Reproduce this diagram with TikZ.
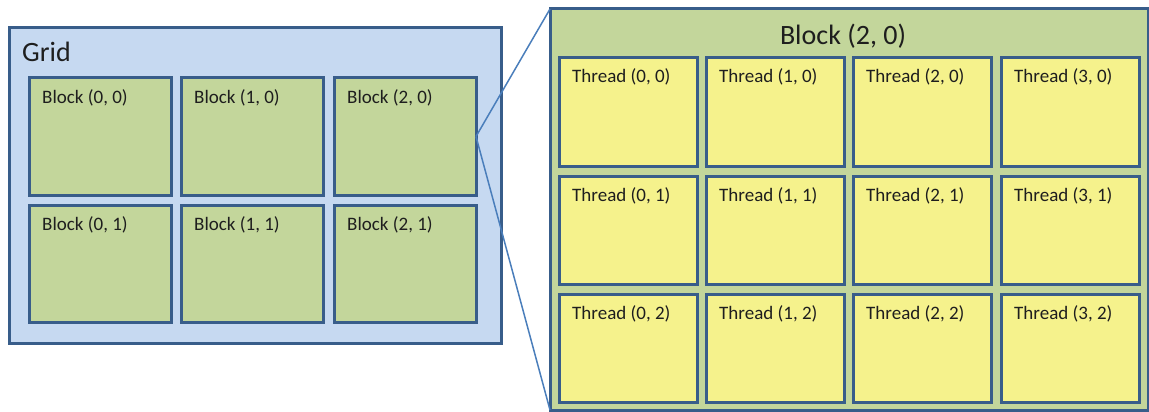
\documentclass[tikz,border=0pt]{standalone}
\usepackage{fontspec}
\setmainfont{Carlito}
\definecolor{edge}{HTML}{385D8A}
\definecolor{gridfill}{HTML}{C6D9F1}
\definecolor{blockfill}{HTML}{C3D69B}
\definecolor{threadfill}{HTML}{F5F28C}
\definecolor{conn}{HTML}{4A7EBB}
\definecolor{ink}{HTML}{1E1E1E}
\begin{document}
\begin{tikzpicture}[x=1pt,y=-1pt,
  box/.style={draw=edge,line width=3pt,rectangle,anchor=north west,inner sep=0pt,outer sep=0pt},
  gridbox/.style={box,fill=gridfill,minimum width=492pt,minimum height=315pt},
  blockbox/.style={box,fill=blockfill,minimum width=142pt,minimum height=117pt},
  bigblock/.style={box,fill=blockfill,minimum width=598pt,minimum height=401pt},
  threadbox/.style={box,fill=threadfill,minimum width=138pt,minimum height=108pt},
  smalltxt/.style={anchor=base west,inner sep=0pt,text=ink,font=\fontsize{19}{23}\selectfont},
  bigtxt/.style={inner sep=0pt,text=ink,font=\fontsize{28}{33}\selectfont},
  connector/.style={draw=conn,line width=1.5pt}]
\useasboundingbox (0,0) rectangle (1149,412);
% Grid
\node[gridbox] (grid) at (9,28) {};
\node[bigtxt,anchor=base west] (gridlbl) at (22,62) {Grid};
\foreach \c/\x in {0/29,1/181,2/334}{
  \foreach \r/\y in {0/78,1/205}{
    \node[blockbox] (b\c\r) at (\x,\y) {};
    \node[smalltxt] (bl\c\r) at (\x+13,\y+25) {Block (\c, \r)};
  }
}
% Big block
\node[bigblock] (big) at (550,9) {};
\node[bigtxt,anchor=base] (biglbl) at (843,45) {Block (2, 0)};
\foreach \c/\x in {0/559,1/706,2/853,3/1001}{
  \foreach \r/\y in {0/58,1/176,2/294}{
    \node[threadbox] (t\c\r) at (\x,\y) {};
    \node[smalltxt] (tl\c\r) at (\x+13,\y+25) {Thread (\c, \r)};
  }
}
% connectors
\draw[connector] (b20.east) -- (big.north west);
\draw[connector] (b20.east) -- (big.south west);
\end{tikzpicture}
\end{document}
